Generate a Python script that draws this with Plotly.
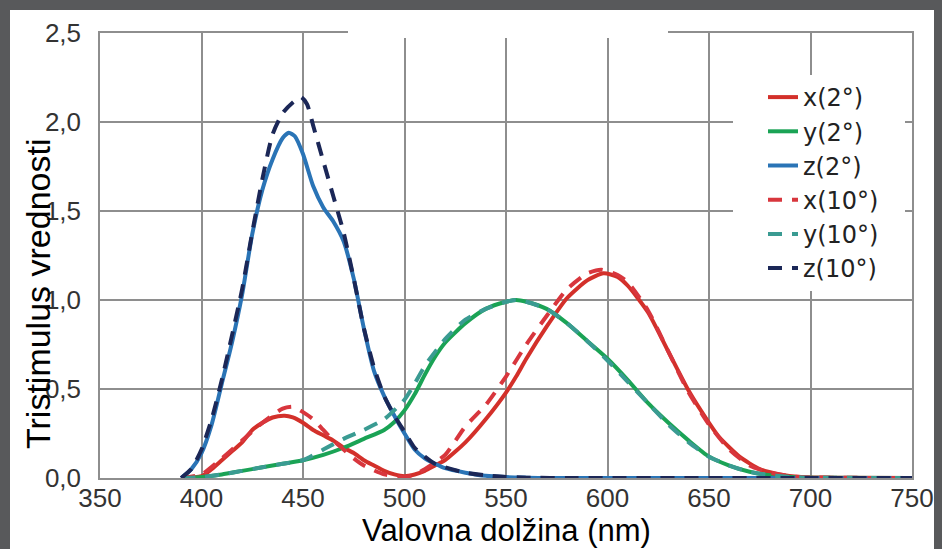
import plotly.graph_objects as go

# ---------------- data ----------------
wl_x2 = [390, 400, 405, 410, 415, 420, 425, 430, 435, 441, 445, 450, 455, 460, 465, 470, 475, 480, 485, 490, 495, 500,
         505, 510, 515, 520, 530, 540, 550, 555, 560, 570, 580, 590, 598, 605, 610, 620, 630, 640, 650, 655, 665, 675,
         685, 695, 710, 750]
x2_vals = [0.0, 0.01, 0.05, 0.10, 0.15, 0.20, 0.27, 0.31, 0.34, 0.35, 0.34, 0.31, 0.27, 0.24, 0.21, 0.17, 0.14, 0.10,
           0.07, 0.04, 0.02, 0.01, 0.02, 0.04, 0.07, 0.10, 0.20, 0.33, 0.48, 0.57, 0.67, 0.85, 1.01, 1.11, 1.15, 1.13,
           1.08, 0.93, 0.71, 0.49, 0.31, 0.23, 0.12, 0.05, 0.02, 0.006, 0.002, 0.0]

wl_y2 = [395, 400, 410, 420, 430, 440, 450, 460, 470, 480, 490, 495, 500, 505, 510, 515, 520, 530, 540, 550, 555, 560,
         570, 580, 590, 600, 610, 620, 630, 640, 650, 660, 670, 680, 690, 700, 750]
y2_vals = [0.0, 0.005, 0.02, 0.04, 0.06, 0.08, 0.10, 0.13, 0.17, 0.22, 0.27, 0.315, 0.38, 0.47, 0.58, 0.68, 0.76, 0.87,
           0.95, 0.99, 1.0, 0.99, 0.95, 0.87, 0.77, 0.67, 0.55, 0.42, 0.31, 0.21, 0.12, 0.07, 0.035, 0.015, 0.006,
           0.002, 0.0]

wl_z2 = [390, 395, 400, 405, 410, 415, 420, 425, 430, 435, 440, 443, 446, 450, 455, 460, 465, 470, 475, 480, 485, 490,
         495, 500, 505, 510, 515, 520, 530, 540, 550, 560, 570, 750]
z2_vals = [0.0, 0.05, 0.14, 0.30, 0.53, 0.76, 1.03, 1.37, 1.62, 1.79, 1.91, 1.94, 1.92, 1.82, 1.64, 1.52, 1.44, 1.33,
           1.12, 0.84, 0.60, 0.46, 0.35, 0.25, 0.16, 0.11, 0.08, 0.055, 0.03, 0.012, 0.005, 0.002, 0.0, 0.0]

wl_x10 = [390, 400, 410, 420, 430, 440, 445, 450, 455, 460, 465, 470, 475, 480, 490, 500, 505, 510, 520, 530, 540, 550,
          560, 570, 580, 590, 597, 605, 610, 620, 630, 640, 650, 660, 670, 680, 690, 700, 720, 750]
x10_vals = [0.0, 0.02, 0.11, 0.21, 0.31, 0.39, 0.40, 0.37, 0.33, 0.27, 0.21, 0.16, 0.11, 0.07, 0.02, 0.005, 0.02, 0.05,
            0.13, 0.29, 0.41, 0.57, 0.75, 0.91, 1.06, 1.15, 1.17, 1.14, 1.10, 0.94, 0.71, 0.48, 0.30, 0.16, 0.07, 0.03,
            0.01, 0.004, 0.001, 0.0]

wl_y10 = [390, 400, 410, 420, 430, 440, 450, 460, 470, 480, 490, 500, 505, 510, 520, 530, 540, 550, 555, 560, 570, 580,
          590, 600, 610, 620, 630, 640, 650, 660, 670, 680, 690, 700, 750]
y10_vals = [0.0, 0.005, 0.02, 0.04, 0.06, 0.08, 0.10, 0.16, 0.22, 0.27, 0.33, 0.44, 0.53, 0.63, 0.78, 0.89, 0.95, 0.99,
            1.0, 0.99, 0.95, 0.87, 0.77, 0.66, 0.54, 0.42, 0.30, 0.20, 0.12, 0.07, 0.035, 0.015, 0.006, 0.002, 0.0]

wl_z10 = [390, 395, 400, 405, 410, 415, 420, 425, 430, 435, 440, 445, 449, 452, 455, 460, 465, 470, 475, 480, 485, 490,
          495, 500, 505, 510, 515, 520, 530, 540, 550, 560, 580, 750]
z10_vals = [0.0, 0.05, 0.16, 0.33, 0.55, 0.80, 1.06, 1.38, 1.68, 1.93, 2.05, 2.11, 2.14, 2.10, 1.98, 1.78, 1.58, 1.38,
            1.12, 0.84, 0.62, 0.46, 0.35, 0.26, 0.17, 0.12, 0.08, 0.06, 0.03, 0.015, 0.006, 0.002, 0.0, 0.0]

series_names = ["x(2°)", "y(2°)", "z(2°)", "x(10°)", "y(10°)", "z(10°)"]
x_ticks = [350, 400, 450, 500, 550, 600, 650, 700, 750]
y_ticks = [0.0, 0.5, 1.0, 1.5, 2.0, 2.5]
y_tick_text = ["0,0", "0,5", "1,0", "1,5", "2,0", "2,5"]
x_title = "Valovna dolžina (nm)"
y_title = "Tristimulus vrednosti"

# ---------------- styling ----------------
colors = ["#d3302a", "#1aa355", "#2a74b6", "#d8363d", "#3a9b92", "#1b2757"]
dashes = ["solid", "solid", "solid", "14px,10px", "14px,10px", "14px,10px"]
W, H = 942, 549
L, R, T, B = 100, 30, 33, 71
PW, PH = W - L - R, H - T - B
dark = "#58595b"


def px_x(p):
    return (p - L) / PW


def px_y(p):
    return (H - B - p) / PH


fig = go.Figure()
xs = [wl_x2, wl_y2, wl_z2, wl_x10, wl_y10, wl_z10]
ys = [x2_vals, y2_vals, z2_vals, x10_vals, y10_vals, z10_vals]
for i in range(6):
    fig.add_trace(go.Scatter(
        x=xs[i], y=ys[i], mode="lines", name=series_names[i],
        line=dict(color=colors[i], width=4, dash=dashes[i], shape="spline", smoothing=0.6),
    ))

grid_col = "#8e8e8e"
fig.update_layout(
    width=W, height=H,
    margin=dict(l=L, r=R, t=T, b=B, autoexpand=False),
    paper_bgcolor="white",
    plot_bgcolor="white",
    font=dict(family="Liberation Sans Narrow, Liberation Sans, Arial", color="#333333"),
    showlegend=True,
    legend=dict(
        x=px_x(763), y=px_y(75), xanchor="left", yanchor="top",
        bgcolor="white", borderwidth=0,
        font=dict(family="DejaVu Sans, Liberation Sans", size=24, color="#222222"),
        itemwidth=30,
    ),
    xaxis=dict(
        range=[350, 750], tickvals=x_ticks, ticktext=[str(v) for v in x_ticks],
        showgrid=True, gridcolor=grid_col, gridwidth=1.5,
        showline=True, linecolor=grid_col, linewidth=1.5, mirror=True,
        zeroline=False, ticks="", ticklabelstandoff=-4, automargin=False,
        tickfont=dict(size=26, color="#333333"),
    ),
    yaxis=dict(
        range=[0, 2.5], tickvals=y_ticks, ticktext=y_tick_text,
        showgrid=True, gridcolor=grid_col, gridwidth=1.5,
        showline=True, linecolor=grid_col, linewidth=1.5, mirror=True,
        zeroline=False, ticks="", ticklabelstandoff=12, automargin=False,
        tickfont=dict(size=26, color="#333333"),
    ),
    annotations=[
        dict(text=x_title, xref="paper", yref="paper", x=px_x(506), y=px_y(530),
             xanchor="center", yanchor="middle", showarrow=False,
             font=dict(family="Liberation Sans, Arial", size=31, color="black")),
        dict(text=y_title, xref="paper", yref="paper", x=px_x(38), y=px_y(294),
             xanchor="center", yanchor="middle", showarrow=False, textangle=-90,
             font=dict(family="Liberation Sans, Arial", size=34, color="black")),
    ],
    shapes=[
        # dark border bands round the white page
        dict(type="rect", xref="paper", yref="paper", layer="above",
             x0=px_x(0), x1=px_x(W), y0=px_y(10), y1=px_y(0),
             fillcolor=dark, line=dict(width=0)),
        dict(type="rect", xref="paper", yref="paper", layer="above",
             x0=px_x(0), x1=px_x(10), y0=px_y(H), y1=px_y(0),
             fillcolor=dark, line=dict(width=0)),
        dict(type="rect", xref="paper", yref="paper", layer="above",
             x0=px_x(934), x1=px_x(W), y0=px_y(H), y1=px_y(0),
             fillcolor=dark, line=dict(width=0)),
        # white patch hiding part of top frame (cut title area)
        dict(type="rect", xref="paper", yref="paper", layer="above",
             x0=px_x(348), x1=px_x(668), y0=px_y(38), y1=px_y(10),
             fillcolor="white", line=dict(width=0)),
        # white patch behind legend
        dict(type="rect", xref="paper", yref="paper", layer="above",
             x0=px_x(733), x1=px_x(905), y0=px_y(283), y1=px_y(75),
             fillcolor="white", line=dict(width=0)),
    ],
)

fig.write_html("out.html")
